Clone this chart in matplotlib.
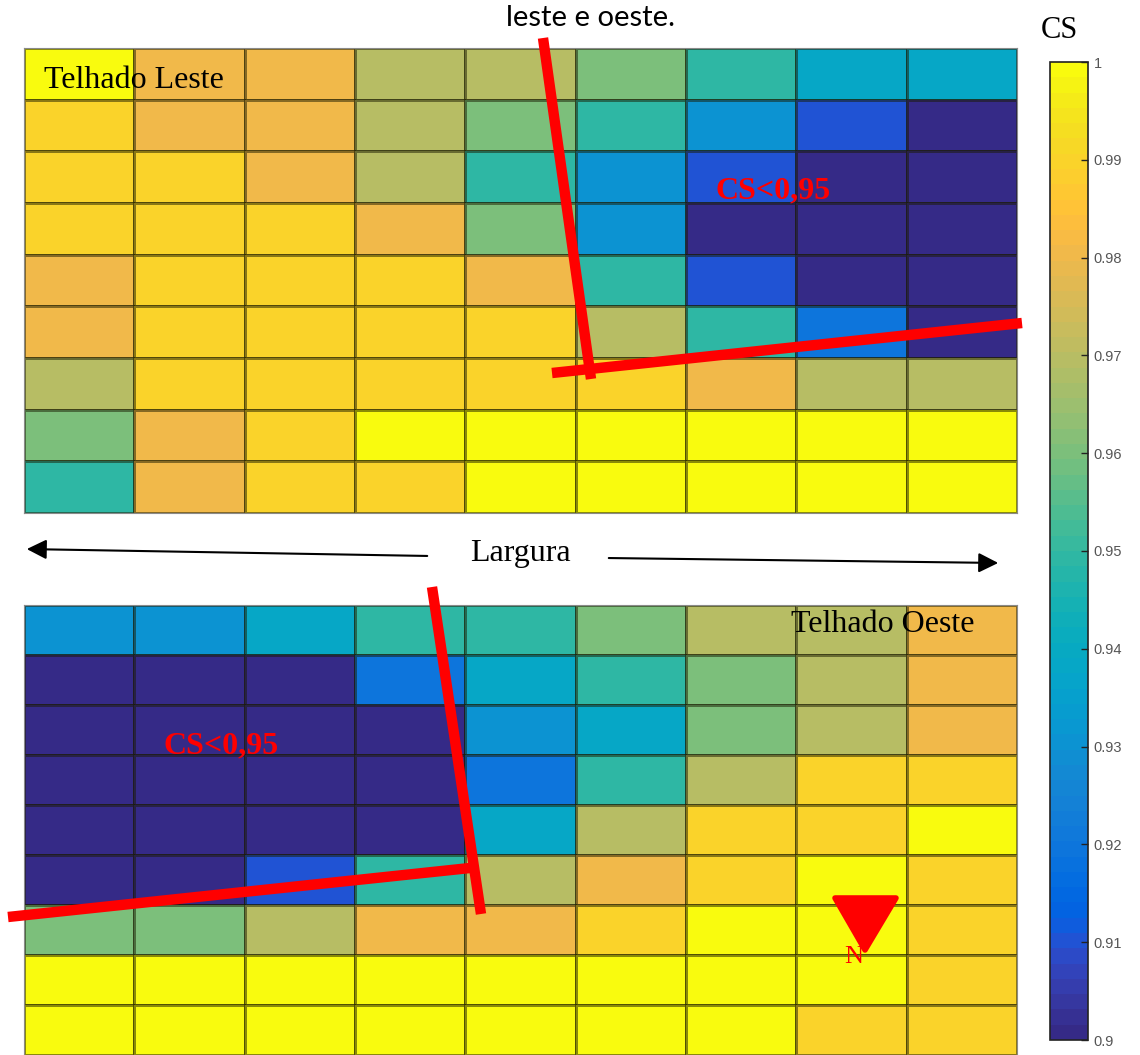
import numpy as np
import matplotlib
matplotlib.use("Agg")
import matplotlib.pyplot as plt
from matplotlib.colors import ListedColormap
from matplotlib.patches import Polygon, FancyArrowPatch

# CS values per cell, rows top to bottom, columns left to right
cs_leste = np.array([
    [0.999, 0.980, 0.980, 0.970, 0.970, 0.960, 0.950, 0.939, 0.938],
    [0.990, 0.980, 0.980, 0.970, 0.960, 0.950, 0.930, 0.910, 0.900],
    [0.990, 0.990, 0.980, 0.970, 0.950, 0.930, 0.910, 0.900, 0.900],
    [0.990, 0.990, 0.990, 0.980, 0.960, 0.930, 0.900, 0.900, 0.900],
    [0.980, 0.990, 0.990, 0.990, 0.980, 0.950, 0.910, 0.900, 0.900],
    [0.980, 0.990, 0.990, 0.990, 0.990, 0.970, 0.950, 0.920, 0.900],
    [0.970, 0.990, 0.990, 0.990, 0.990, 0.990, 0.980, 0.970, 0.970],
    [0.960, 0.980, 0.990, 0.999, 0.999, 0.999, 0.999, 0.999, 0.999],
    [0.950, 0.980, 0.990, 0.990, 0.999, 0.999, 0.999, 0.999, 0.999],
])

cs_oeste = np.array([
    [0.930, 0.930, 0.939, 0.950, 0.950, 0.960, 0.970, 0.970, 0.980],
    [0.900, 0.900, 0.900, 0.920, 0.939, 0.950, 0.960, 0.970, 0.980],
    [0.900, 0.900, 0.900, 0.900, 0.930, 0.939, 0.960, 0.970, 0.980],
    [0.900, 0.900, 0.900, 0.900, 0.920, 0.950, 0.970, 0.990, 0.990],
    [0.900, 0.900, 0.900, 0.900, 0.939, 0.970, 0.990, 0.990, 0.999],
    [0.900, 0.900, 0.910, 0.950, 0.970, 0.980, 0.990, 0.999, 0.990],
    [0.960, 0.960, 0.970, 0.980, 0.980, 0.990, 0.999, 0.999, 0.990],
    [0.999, 0.999, 0.999, 0.999, 0.999, 0.999, 0.999, 0.999, 0.990],
    [0.999, 0.999, 0.999, 0.999, 0.999, 0.999, 0.999, 0.990, 0.990],
])

cbar_ticks = [0.90, 0.91, 0.92, 0.93, 0.94, 0.95, 0.96, 0.97, 0.98, 0.99, 1.00]
cbar_labels = ["0.9", "0.91", "0.92", "0.93", "0.94", "0.95", "0.96",
               "0.97", "0.98", "0.99", "1"]

# MATLAB parula
parula_rgb = [
    [0.2081, 0.1663, 0.5292], [0.2116, 0.1898, 0.5777], [0.2123, 0.2138, 0.6270],
    [0.2081, 0.2386, 0.6771], [0.1959, 0.2645, 0.7279], [0.1707, 0.2919, 0.7792],
    [0.1253, 0.3242, 0.8303], [0.0591, 0.3598, 0.8683], [0.0117, 0.3875, 0.8820],
    [0.0060, 0.4086, 0.8828], [0.0165, 0.4266, 0.8786], [0.0329, 0.4430, 0.8720],
    [0.0498, 0.4586, 0.8641], [0.0629, 0.4737, 0.8554], [0.0723, 0.4887, 0.8467],
    [0.0779, 0.5040, 0.8384], [0.0793, 0.5200, 0.8312], [0.0749, 0.5375, 0.8263],
    [0.0641, 0.5570, 0.8240], [0.0488, 0.5772, 0.8228], [0.0343, 0.5966, 0.8199],
    [0.0265, 0.6137, 0.8135], [0.0239, 0.6287, 0.8038], [0.0231, 0.6418, 0.7913],
    [0.0228, 0.6535, 0.7768], [0.0267, 0.6642, 0.7607], [0.0384, 0.6743, 0.7436],
    [0.0590, 0.6838, 0.7254], [0.0843, 0.6928, 0.7062], [0.1133, 0.7015, 0.6859],
    [0.1453, 0.7098, 0.6646], [0.1801, 0.7177, 0.6424], [0.2178, 0.7250, 0.6193],
    [0.2586, 0.7317, 0.5954], [0.3022, 0.7376, 0.5712], [0.3482, 0.7424, 0.5473],
    [0.3953, 0.7459, 0.5244], [0.4420, 0.7481, 0.5033], [0.4871, 0.7491, 0.4840],
    [0.5300, 0.7491, 0.4661], [0.5709, 0.7485, 0.4494], [0.6099, 0.7473, 0.4337],
    [0.6473, 0.7456, 0.4188], [0.6834, 0.7435, 0.4044], [0.7184, 0.7411, 0.3905],
    [0.7525, 0.7384, 0.3768], [0.7858, 0.7356, 0.3633], [0.8185, 0.7327, 0.3498],
    [0.8507, 0.7299, 0.3360], [0.8824, 0.7274, 0.3217], [0.9139, 0.7258, 0.3063],
    [0.9450, 0.7261, 0.2886], [0.9739, 0.7314, 0.2666], [0.9938, 0.7455, 0.2403],
    [0.9990, 0.7653, 0.2164], [0.9955, 0.7861, 0.1967], [0.9880, 0.8066, 0.1794],
    [0.9789, 0.8271, 0.1633], [0.9697, 0.8481, 0.1475], [0.9626, 0.8705, 0.1309],
    [0.9589, 0.8949, 0.1132], [0.9598, 0.9218, 0.0948], [0.9661, 0.9514, 0.0755],
    [0.9763, 0.9831, 0.0538],
]
parula = ListedColormap(parula_rgb, name="parula")

W, H = 1140, 1055
fig = plt.figure(figsize=(W / 100, H / 100), dpi=100)


def px_axes(x0, y0, x1, y1):
    return fig.add_axes([x0 / W, 1 - y1 / H, (x1 - x0) / W, (y1 - y0) / H])


ax_top = px_axes(24, 48, 1017, 513)
ax_bot = px_axes(24, 605, 1017, 1055)
cax = px_axes(1050, 62, 1088, 1040)

mesh = None
for ax, data in [(ax_top, cs_leste), (ax_bot, cs_oeste)]:
    mesh = ax.pcolormesh(data, cmap=parula, vmin=0.9, vmax=1.0,
                         edgecolors=(0.1, 0.1, 0.0, 0.5), linewidth=1.0)
    ax.set_xlim(0, data.shape[1])
    ax.set_ylim(data.shape[0], 0)
    ax.set_xticks([])
    ax.set_yticks([])
    for s in ax.spines.values():
        s.set_color("#8a8a8a")
        s.set_linewidth(0.8)

cb = fig.colorbar(mesh, cax=cax, ticks=cbar_ticks)
cb.ax.set_yticklabels(cbar_labels)
cb.outline.set_edgecolor("#222222")
cb.outline.set_linewidth(1.2)
cb.ax.tick_params(direction="in", length=5, width=1, color="#222222",
                  labelcolor="#555555", labelsize=10.5, pad=4)
for t in cb.ax.get_yticklabels():
    t.set_family(["Liberation Sans", "DejaVu Sans"])

# overlay in pixel coordinates for annotations
ov = fig.add_axes([0, 0, 1, 1], zorder=10)
ov.set_xlim(0, W)
ov.set_ylim(H, 0)
ov.axis("off")
ov.patch.set_alpha(0)

serif = ["Liberation Serif", "DejaVu Serif"]

ov.text(590, 18, "leste e oeste.", ha="center", va="center", fontsize=21,
        family=["Lato", "DejaVu Sans"])
ov.text(1059, 30, "CS", ha="center", va="center", fontsize=22, family=serif)
ov.text(44, 80, "Telhado Leste", ha="left", va="center", fontsize=23, family=serif)
ov.text(791, 624, "Telhado Oeste", ha="left", va="center", fontsize=23, family=serif)
ov.text(520, 553, "Largura", ha="center", va="center", fontsize=23, family=serif)
ov.text(773, 191, "CS<0,95", ha="center", va="center", fontsize=23,
        fontweight="bold", color="red", family=serif)
ov.text(221, 746, "CS<0,95", ha="center", va="center", fontsize=23,
        fontweight="bold", color="red", family=serif)
ov.text(854, 957, "N", ha="center", va="center", fontsize=19, color="red",
        family=serif)

# red boundary lines
red_lines = [
    ((543, 38), (591, 379)),
    ((552, 373), (1022, 323)),
    ((432, 587), (481, 914)),
    ((8, 917), (470, 868)),
]
for (x0, y0), (x1, y1) in red_lines:
    ov.plot([x0, x1], [y0, y1], color="red", linewidth=7.5,
            solid_capstyle="butt")

# width arrows
for start, end in [((430, 556), (24, 549)), ((606, 558), (1001, 563))]:
    ov.add_patch(FancyArrowPatch(start, end, arrowstyle="-|>,head_length=8,head_width=4",
                                 mutation_scale=1.5, color="black", linewidth=1.5))

# north marker
ov.add_patch(Polygon([(835, 898), (896, 898), (865, 950)], closed=True,
                     facecolor="red", edgecolor="red", linewidth=4,
                     joinstyle="round"))

fig.savefig("out.png", dpi=100)
